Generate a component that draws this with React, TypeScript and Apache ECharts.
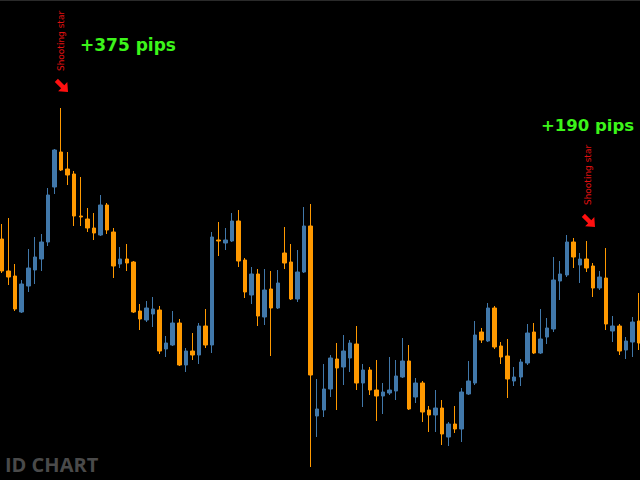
import React, { useEffect, useRef } from "react";
import * as echarts from "echarts";

// OHLC values (price units), one entry per candle
const opens = [761,729,724,688,714,730,741,758,813,848,831,826,784,781,772,765,795,768,736,741,738,689,680,686,690,651,655,677,635,649,645,674,655,760,757,759,779,740,705,726,683,711,692,747,738,701,728,774,584,590,611,641,633,642,656,617,630,610,604,607,609,623,639,603,617,590,585,592,563,576,571,606,617,668,659,692,654,644,619,623,637,668,647,663,671,719,725,758,735,741,734,712,722,669,674,650,658,679];
const closes = [729,723,691,716,732,743,758,805,850,830,825,784,783,772,767,795,770,734,741,737,688,681,692,691,649,657,677,635,649,645,674,655,763,759,760,779,739,708,726,684,710,692,717,737,701,728,774,625,591,611,642,632,649,657,617,630,610,604,608,610,624,639,591,617,588,585,592,566,576,571,608,619,665,660,692,653,643,621,623,638,667,647,661,672,720,726,758,743,741,732,712,723,676,674,649,659,678,657];
const lows = [727,715,689,687,708,716,729,754,806,829,815,774,774,768,760,764,766,722,732,729,687,670,678,673,646,643,654,634,628,640,636,652,647,744,750,758,733,702,696,674,675,644,691,731,700,698,727,533,563,583,603,590,615,628,610,593,605,579,586,605,600,622,590,597,578,568,568,555,554,567,558,605,615,657,658,651,636,602,614,614,635,646,646,656,668,700,723,732,717,728,703,710,670,658,645,641,643,650];
const highs = [776,782,736,720,751,763,766,812,851,892,848,829,823,792,787,805,797,772,753,756,739,696,699,703,694,664,689,681,652,667,677,691,768,778,772,787,790,742,733,731,731,729,730,773,756,750,793,796,621,636,645,657,665,660,674,636,633,640,617,643,640,662,655,622,619,594,610,600,578,594,612,639,679,672,697,694,658,661,633,641,676,677,691,682,743,739,765,762,747,759,737,729,752,684,676,663,683,707];
const categories = opens.map((_, i) => String(i + 1));

// annotations
const pipLabels = ["+375 pips", "+190 pips"];
const patternLabels = ["Shooting star", "Shooting star"];
const watermark = "ID CHART";

const UP = "#4178aa";
const DOWN = "#ff9900";

function arrow(x: number, y: number) {
  return {
    type: "polygon",
    x,
    y,
    rotation: -Math.PI / 4,
    shape: {
      points: [[-8, -2.2], [1, -2.2], [1, -6.5], [8.5, 0], [1, 6.5], [1, 2.2], [-8, 2.2]],
    },
    style: { fill: "#ff1010" },
  };
}

export default function App() {
  const ref = useRef<HTMLDivElement>(null);
  useEffect(() => {
    if (!ref.current) return;
    const chart = echarts.init(ref.current, null, { renderer: "svg" });
    const data = opens.map((o, i) => [o, closes[i], lows[i], highs[i]]);
    chart.setOption({
      animation: false,
      backgroundColor: "#000000",
      grid: { left: 2, right: 1, top: 0, bottom: 0 },
      xAxis: {
        type: "category",
        data: categories,
        boundaryGap: false,
        show: false,
      },
      yAxis: {
        type: "value",
        min: 520,
        max: 1000,
        show: false,
        splitLine: { show: false },
      },
      series: [
        {
          type: "candlestick",
          data,
          barWidth: 4,
          itemStyle: {
            color: UP,
            color0: DOWN,
            borderColor: UP,
            borderColor0: DOWN,
            borderWidth: 1,
          },
        },
      ],
      graphic: [
        {
          type: "rect",
          shape: { x: 0, y: 0, width: 640, height: 1 },
          style: { fill: "#2a2a2a" },
        },
        {
          type: "text",
          x: 80,
          y: 45,
          style: {
            text: pipLabels[0],
            fill: "#3cf51a",
            fontSize: 17,
            fontWeight: "bold",
            fontFamily: "DejaVu Sans",
            verticalAlign: "middle",
          },
        },
        {
          type: "text",
          x: 541,
          y: 125,
          style: {
            text: pipLabels[1],
            fill: "#3cf51a",
            fontSize: 16.5,
            fontWeight: "bold",
            fontFamily: "DejaVu Sans",
            verticalAlign: "middle",
          },
        },
        {
          type: "text",
          x: 61,
          y: 41,
          rotation: Math.PI / 2,
          style: {
            text: patternLabels[0],
            fill: "#e01010",
            fontSize: 9,
            fontFamily: "DejaVu Sans",
            align: "center",
            verticalAlign: "middle",
          },
        },
        {
          type: "text",
          x: 588,
          y: 175,
          rotation: Math.PI / 2,
          style: {
            text: patternLabels[1],
            fill: "#e01010",
            fontSize: 9,
            fontFamily: "DejaVu Sans",
            align: "center",
            verticalAlign: "middle",
          },
        },
        arrow(62, 86),
        arrow(589, 221),
        {
          type: "text",
          x: 5,
          y: 464,
          style: {
            text: watermark,
            fill: "#4a4a4a",
            fontSize: 20,
            fontWeight: "bold",
            fontFamily: "Open Sans",
            verticalAlign: "middle",
          },
        },
      ],
    });
    return () => chart.dispose();
  }, []);
  return (
    <div
      ref={ref}
      style={{ position: "fixed", left: 0, top: 0, width: 640, height: 480, background: "#000" }}
    />
  );
}
